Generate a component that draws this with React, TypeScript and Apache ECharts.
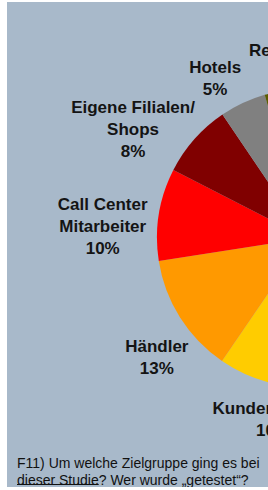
import React, { useEffect, useRef } from "react";
import * as echarts from "echarts";

// ---- data ----
const categories = [
  "Kundenberater",
  "Händler",
  "Call Center\nMitarbeiter",
  "Eigene Filialen/\nShops",
  "Hotels",
  "Restaurants",
  "Sonstige",
];
const shares = [10, 13, 10, 8, 5, 10, 44];
const sliceColors = ["#ffcc00", "#ff9900", "#ff0000", "#800000", "#808080", "#5c5c00", "#b0b0b0"];
const labelVisible = [true, true, true, true, true, true, false];
const footerLine1 = "F11) Um welche Zielgruppe ging es bei";
const footerUnderlined = "dieser Studie";
const footerRest = "? Wer wurde „getestet“?";

// ---- layout ----
const W = 261;
const H = 485;
const CX = 299;
const CY = 236;
const R = 149;
const START = 271.7;
const LABEL_SHIFT = 6;
const LABEL_GAP = 3;
// per-label fine placement (radial pull in px, extra turn in degrees)
const labelPull = [0, 1, 5, -18, 0, 0, 0];
const labelTurn = [0, 0.5, 0, 3.5, -1.5, -1.5, 0];
const BG = "#a8b9ca";
const FONT = "'Liberation Sans', Arial, sans-serif";

function measure(text: string, font: string): number {
  const c = document.createElement("canvas").getContext("2d");
  if (!c) return text.length * 7;
  c.font = font;
  return c.measureText(text).width;
}

export default function App() {
  const ref = useRef<HTMLDivElement>(null);
  useEffect(() => {
    if (!ref.current) return;
    const chart = echarts.init(ref.current, undefined, { renderer: "svg" });
    const total = shares.reduce((a, b) => a + b, 0);
    const ulWidth = measure(footerUnderlined, `14px ${FONT}`);
    const option: any = {
      animation: false,
      backgroundColor: BG,
      series: [
        {
          type: "pie",
          center: [CX, CY],
          radius: R,
          startAngle: START,
          clockwise: true,
          avoidLabelOverlap: false,
          emphasis: { disabled: true },
          label: {
            show: true,
            position: "outside",
            formatter: (p: any) => `${p.name}\n${p.value}%`,
            fontFamily: FONT,
            fontWeight: "bold",
            fontSize: 17,
            lineHeight: 22,
            color: "#141414",
            overflow: "none",
            align: "center",
          },
          labelLine: { show: false },
          labelLayout: (p: any) => {
            const i = p.dataIndex;
            let before = 0;
            for (let k = 0; k < i; k++) before += shares[k];
            const mid =
              START - ((before + shares[i] / 2) / total) * 360 + LABEL_SHIFT + labelTurn[i];
            const rad = (mid * Math.PI) / 180;
            const ux = Math.cos(rad);
            const uy = -Math.sin(rad);
            const hw = p.labelRect.width / 2;
            const hh = p.labelRect.height / 2;
            const t = R + LABEL_GAP + hw * Math.abs(ux) + hh * Math.abs(uy) + labelPull[i];
            return {
              x: CX + t * ux,
              y: CY + t * uy,
              align: "center",
              verticalAlign: "middle",
            };
          },
          data: categories.map((name, i) => ({
            name,
            value: shares[i],
            itemStyle: { color: sliceColors[i] },
            label: { show: labelVisible[i] },
          })),
        },
      ],
      graphic: [
        {
          type: "text",
          x: 10,
          y: 452,
          style: {
            text: footerLine1 + "\n" + footerUnderlined + footerRest,
            font: `14px ${FONT}`,
            lineHeight: 17,
            fill: "#111",
            verticalAlign: "top",
          },
        },
        {
          type: "line",
          shape: { x1: 10, y1: 482.5, x2: 10 + ulWidth, y2: 482.5 },
          style: { stroke: "#111", lineWidth: 1 },
        },
      ],
    };
    chart.setOption(option);
    return () => chart.dispose();
  }, []);
  return (
    <div style={{ position: "fixed", left: 0, top: 0, width: 268, height: 490, background: "#fff", overflow: "hidden" }}>
      <div ref={ref} style={{ position: "absolute", left: 7, top: 2, width: W, height: H }} />
    </div>
  );
}
